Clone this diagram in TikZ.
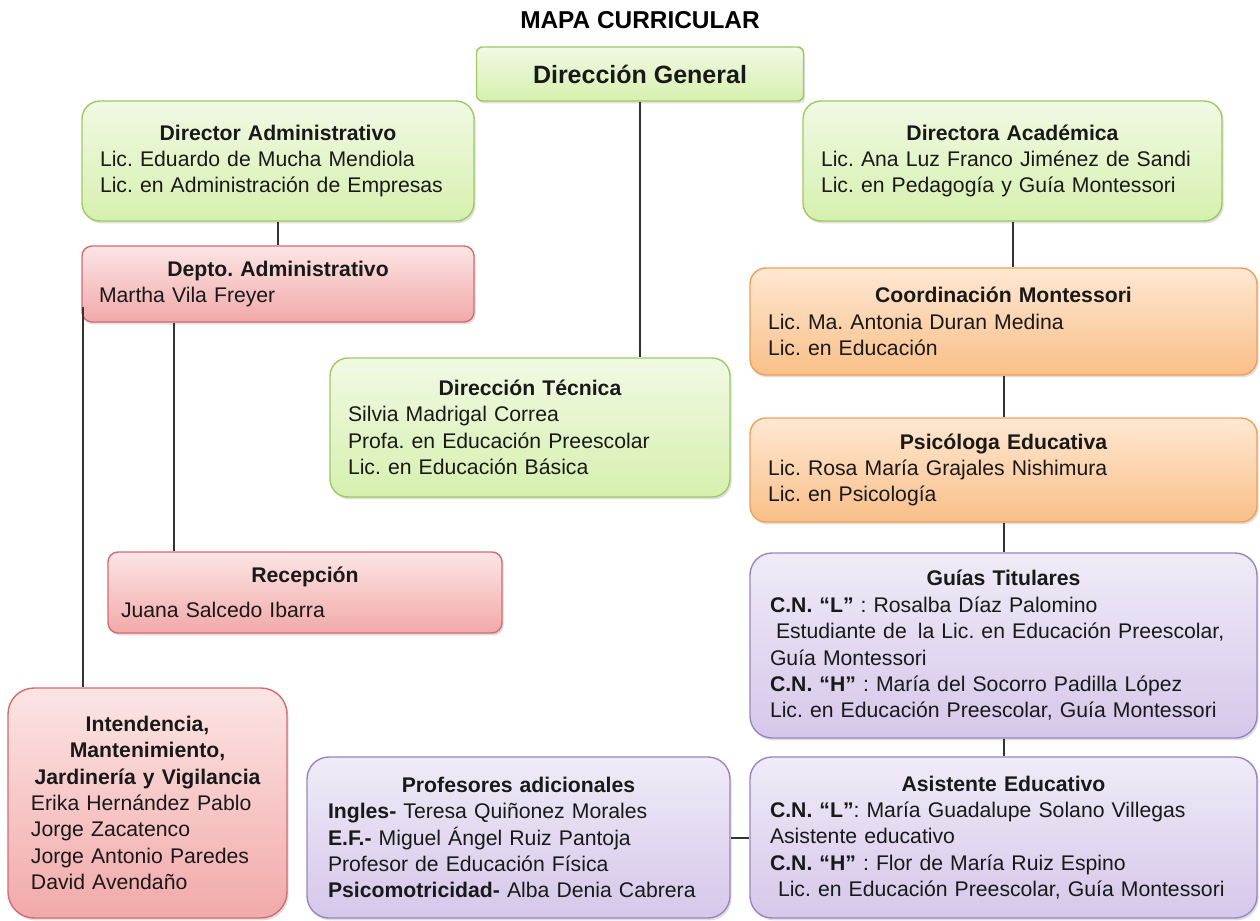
\documentclass[tikz,border=0pt]{standalone}
\usepackage{fontspec}
\setmainfont{Liberation Sans}
\usetikzlibrary{shadows}
\frenchspacing

\definecolor{greentop}{HTML}{F1F9E4}
\definecolor{greenbottom}{HTML}{D6F0AE}
\definecolor{greenline}{HTML}{9CCB61}
\definecolor{redtop}{HTML}{FCE5E5}
\definecolor{redbottom}{HTML}{F2A9A9}
\definecolor{redline}{HTML}{D46C6E}
\definecolor{orangetop}{HTML}{FEE8D2}
\definecolor{orangebottom}{HTML}{F9BF88}
\definecolor{orangeline}{HTML}{F0A055}
\definecolor{purpletop}{HTML}{F0EBF7}
\definecolor{purplebottom}{HTML}{D5C7EA}
\definecolor{purpleline}{HTML}{9B84C4}

\newcommand{\boxhead}[1]{\makebox[\hsize][c]{\bfseries #1}\\}

\begin{document}
\begin{tikzpicture}[
        x=0.5pt, y=-0.5pt,
        orgbox/.style={
            rectangle,
            inner xsep=9pt,
            inner ysep=3pt,
            align=left,
            line width=0.7pt,
            text=black!90,
            font=\fontsize{10.6}{13.2}\selectfont,
            drop shadow={shadow xshift=0.8pt, shadow yshift=-1.2pt, opacity=0.25}
        },
        greenbox/.style={
            orgbox,
            draw=greenline,
            top color=greentop,
            bottom color=greenbottom,
            rounded corners=9pt
        },
        redbox/.style={
            orgbox,
            draw=redline,
            top color=redtop,
            bottom color=redbottom,
            rounded corners=5pt
        },
        orangebox/.style={
            orgbox,
            draw=orangeline,
            top color=orangetop,
            bottom color=orangebottom,
            rounded corners=8pt
        },
        purplebox/.style={
            orgbox,
            draw=purpleline,
            top color=purpletop,
            bottom color=purplebottom,
            rounded corners=11pt
        },
        link/.style={
            draw=black!80,
            line width=1pt
        },
        heading/.style={
            font=\fontsize{12.2}{14}\selectfont\bfseries
        }
    ]
    \useasboundingbox (0,0) rectangle (1260,921);

    % --- Title and top level ---
    \node[heading] (title) at (640,20) {MAPA CURRICULAR};

    \node[greenbox, rounded corners=3pt, minimum width=163.5pt, minimum height=27pt,
        align=center, font=\fontsize{12.5}{14}\selectfont\bfseries] (dirgen) at (640,74) {Dirección General};

    % --- Administrative branch ---
    \node[greenbox, minimum width=196pt, minimum height=60pt, text width=178pt] (diradm) at (278,161) {
        \boxhead{Director Administrativo}
        Lic. Eduardo de Mucha Mendiola\\
        Lic. en Administración de Empresas
    };

    \node[redbox, inner xsep=8.5pt, minimum width=196pt, minimum height=38pt, text width=179pt] (depto) at (278,284) {
        \boxhead{Depto. Administrativo}
        Martha Vila Freyer
    };

    \node[redbox, inner xsep=6.5pt, minimum width=197pt, minimum height=40.5pt, text width=184pt] (recep) at (305,592.5) {
        \boxhead{Recepción}[4pt]
        Juana Salcedo Ibarra
    };

    \node[redbox, rounded corners=13pt, inner xsep=11.5pt, minimum width=139.5pt, minimum height=115pt, text width=116.5pt] (intend) at (147.5,803) {
        \boxhead{Intendencia,}
        \boxhead{Mantenimiento,}
        \boxhead{Jardinería y Vigilancia}
        Erika Hernández Pablo\\
        Jorge Zacatenco\\
        Jorge Antonio Paredes\\
        David Avendaño
    };

    % --- Technical direction ---
    \node[greenbox, minimum width=200pt, minimum height=69.5pt, text width=182pt] (tecnica) at (530,427.5) {
        \boxhead{Dirección Técnica}
        Silvia Madrigal Correa\\
        Profa. en Educación Preescolar\\
        Lic. en Educación Básica
    };

    % --- Academic branch ---
    \node[greenbox, minimum width=209.5pt, minimum height=60pt, text width=191.5pt] (diracad) at (1012.5,161) {
        \boxhead{Directora Académica}
        Lic. Ana Luz Franco Jiménez de Sandi\\
        Lic. en Pedagogía y Guía Montessori
    };

    \node[orangebox, minimum width=253.5pt, minimum height=53.5pt, text width=235.5pt] (coord) at (1003.5,321.5) {
        \boxhead{Coordinación Montessori}
        Lic. Ma. Antonia Duran Medina\\
        Lic. en Educación
    };

    \node[orangebox, minimum width=253.5pt, minimum height=52pt, text width=235.5pt] (psico) at (1003.5,470) {
        \boxhead{Psicóloga Educativa}
        Lic. Rosa María Grajales Nishimura\\
        Lic. en Psicología
    };

    \node[purplebox, inner xsep=10pt, minimum width=253.5pt, minimum height=92.5pt, text width=233.5pt] (guias) at (1003.5,645.5) {
        \boxhead{Guías Titulares}
        \textbf{C.N. “L”} : Rosalba Díaz Palomino\\
        \hspace{3pt}Estudiante de\hspace{2pt} la Lic. en Educación Preescolar,\\
        Guía Montessori\\
        \textbf{C.N. “H”} : María del Socorro Padilla López\\
        Lic. en Educación Preescolar, Guía Montessori
    };

    \node[purplebox, inner xsep=10pt, minimum width=253.5pt, minimum height=80.5pt, text width=233.5pt] (asist) at (1003.5,837.5) {
        \boxhead{Asistente Educativo}
        \textbf{C.N. “L”}: María Guadalupe Solano Villegas\\
        Asistente educativo\\
        \textbf{C.N. “H”} : Flor de María Ruiz Espino\\
        \hspace{4pt}Lic. en Educación Preescolar, Guía Montessori
    };

    \node[purplebox, inner xsep=10.5pt, minimum width=211.5pt, minimum height=80.5pt, text width=190.5pt] (profes) at (518.5,837.5) {
        \boxhead{Profesores adicionales}
        \textbf{Ingles-} Teresa Quiñonez Morales\\
        \textbf{E.F.-} Miguel Ángel Ruiz Pantoja\\
        Profesor de Educación Física\\
        \textbf{Psicomotricidad-} Alba Denia Cabrera
    };

    % Connections
    \draw[link] (dirgen.south) -- (dirgen.south |- tecnica.north);
    \draw[link] (diradm.south) -- (depto.north);
    \draw[link] ([xshift=46.5pt]depto.south west) -- ([xshift=33.5pt]recep.north west);
    \draw[link] ([shift={(0.7pt,8pt)}]depto.south west) -- ([xshift=0.7pt]depto.south west |- intend.north);
    \draw[link] (diracad.south) -- (diracad.south |- coord.north);
    \draw[link] (coord.south) -- (psico.north);
    \draw[link] (psico.south) -- (guias.north);
    \draw[link] (guias.south) -- (asist.north);
    \draw[link] (profes.east) -- (asist.west);

\end{tikzpicture}
\end{document}
